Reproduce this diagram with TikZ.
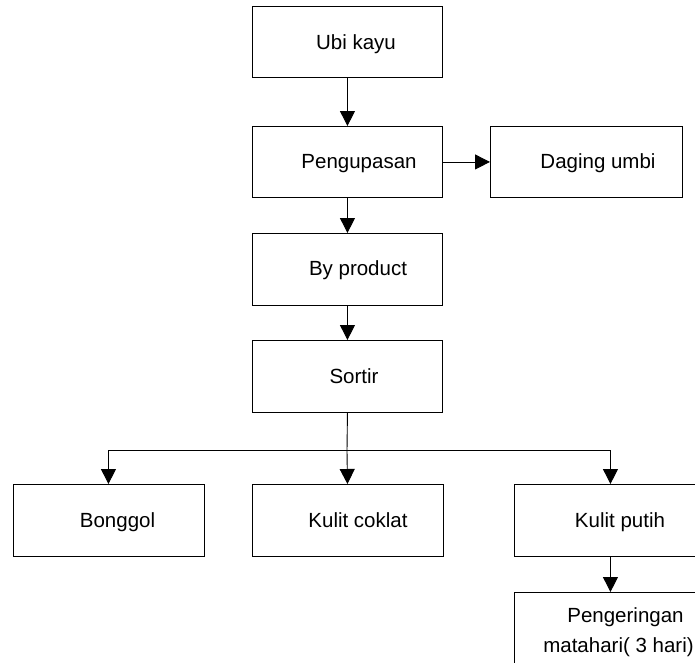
\documentclass[tikz,border=0pt]{standalone}
\usepackage{fontspec}
\setmainfont{Liberation Sans}
\usetikzlibrary{arrows.meta}
\begin{document}
\begin{tikzpicture}[x=1pt,y=-1pt,
  box/.style={draw=black, line width=0.9pt, inner sep=0pt, anchor=north west},
  lbl/.style={font=\fontsize{20.5}{24}\selectfont, inner sep=0pt, anchor=base},
  arr/.style={draw=black, line width=0.9pt, -{Triangle[length=15pt,width=15pt]}},
  ln/.style={draw=black, line width=0.9pt}]
\useasboundingbox (0,0) rectangle (695,662);
\clip (0,0) rectangle (695,662);
\fill[white] (0,0) rectangle (695,662);
% boxes
\node[box, minimum width=190pt, minimum height=71pt] (ubi) at (252,6) {};
\node[box, minimum width=190pt, minimum height=71pt] (kupas) at (252,126) {};
\node[box, minimum width=192pt, minimum height=71pt] (daging) at (490,126) {};
\node[box, minimum width=190pt, minimum height=72pt] (byp) at (252,233) {};
\node[box, minimum width=190pt, minimum height=72pt] (sortir) at (252,340) {};
\node[box, minimum width=191pt, minimum height=72pt] (bonggol) at (12.5,484) {};
\node[box, minimum width=191pt, minimum height=72pt] (coklat) at (251.5,484) {};
\node[box, minimum width=192pt, minimum height=72pt] (putih) at (514,484) {};
\node[box, minimum width=192pt, minimum height=85pt] (kering) at (514,592) {};
% texts
\node[lbl] (tubi) at (356,49.5) {Ubi kayu};
\node[lbl] (tkupas) at (359,168) {Pengupasan};
\node[lbl] (tdaging) at (598,168) {Daging umbi};
\node[lbl] (tbyp) at (358,275) {By product};
\node[lbl] (tsortir) at (354,383) {Sortir};
\node[lbl] (tbonggol) at (117.5,527) {Bonggol};
\node[lbl] (tcoklat) at (358,527) {Kulit coklat};
\node[lbl] (tputih) at (620,527) {Kulit putih};
\node[lbl] (tkering1) at (625.5,622) {Pengeringan};
\node[lbl] (tkering2) at (618.5,652) {matahari( 3 hari)};
% connectors
\draw[arr] (ubi.south) -- (kupas.north);
\draw[arr] (kupas.east) -- (daging.west);
\draw[arr] (kupas.south) -- (byp.north);
\draw[arr] (byp.south) -- (sortir.north);
\coordinate (j) at (347,450.5);
\draw[ln] (sortir.south) -- (j);
\draw[arr] (j) -| (bonggol.north);
\draw[arr] (j) -- (coklat.north);
\draw[arr] (j) -| (putih.north);
\draw[arr] (putih.south) -- (kering.north);
\end{tikzpicture}
\end{document}
